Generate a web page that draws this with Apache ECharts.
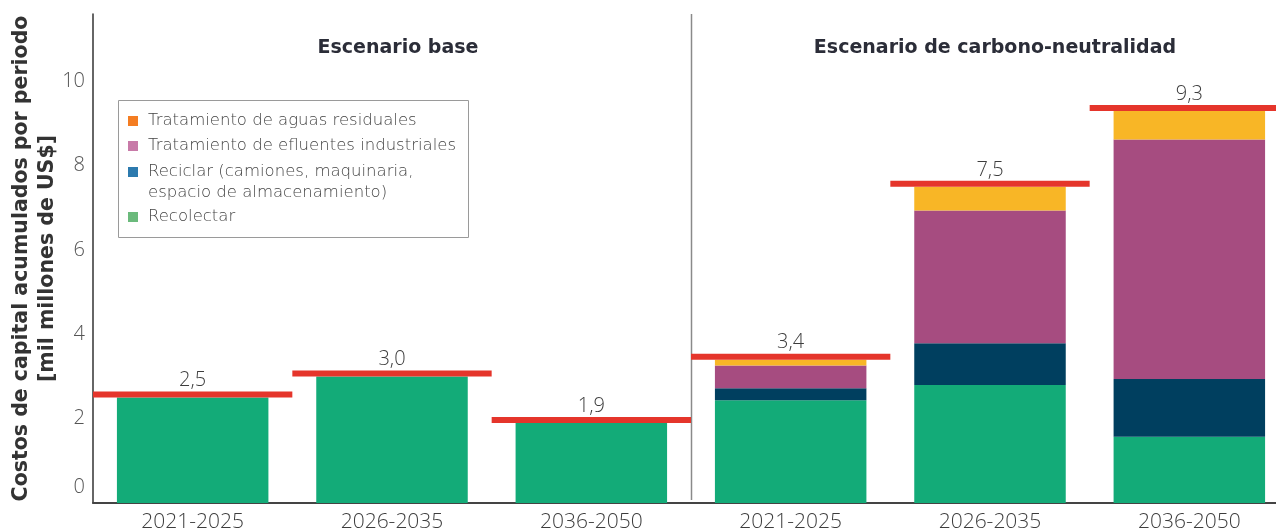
<!DOCTYPE html>
<html>
<head>
<meta charset="utf-8">
<style>
  html, body { margin: 0; padding: 0; background: #ffffff; }
  #chart { width: 1276px; height: 532px; }
</style>
<script src="https://cdn.jsdelivr.net/npm/echarts@6/dist/echarts.min.js"></script>
</head>
<body>
<div id="chart"></div>
<script>
// Periods, repeated for each scenario
const categories = ['2021-2025', '2026-2035', '2036-2050', '2021-2025', '2026-2035', '2036-2050'];

// Stacked components (mil millones de US$), bottom to top
const recolectar = [2.5, 3.0, 1.9, 2.44, 2.80, 1.57];
const reciclar   = [0, 0, 0, 0.28, 0.99, 1.37];
const efluentes  = [0, 0, 0, 0.54, 3.15, 5.68];
const aguas      = [0, 0, 0, 0.14, 0.56, 0.68];

// Period totals shown above each bar
const totals = [2.5, 3.0, 1.9, 3.4, 7.5, 9.3];

// Scenario headings
const scenarios = ['Escenario base', 'Escenario de carbono-neutralidad'];

// Legend entries, top to bottom
const legendNames = [
  'Tratamiento de aguas residuales',
  'Tratamiento de efluentes industriales',
  'Reciclar (camiones, maquinaria,\nespacio de almacenamiento)',
  'Recolectar'
];

const yTicks = [0, 2, 4, 6, 8, 10];

const FONT = '"Open Sans", "Noto Sans", sans-serif';
const BOLD_FONT = '"DejaVu Sans", "Open Sans", sans-serif';
const LEGEND_FONT = '"DejaVu Sans", "Open Sans", sans-serif';
const BAR_COLORS = { recolectar: '#13ab78', reciclar: '#003f5f', efluentes: '#a64c80', aguas: '#f8b626' };
const LEGEND_COLORS = ['#f47d22', '#c87aa8', '#2c7aae', '#6bba7c'];
const fmt = v => v.toFixed(1).replace('.', ',');

const chart = echarts.init(document.getElementById('chart'), null, { renderer: 'canvas' });

function barSeries(name, data, color) {
  return {
    name, type: 'bar', stack: 'total', data,
    barWidth: '76%',
    itemStyle: { color },
    emphasis: { disabled: true },
    z: 2
  };
}

// Legend drawn as a framed box
function legendGraphics() {
  const x0 = 118, y0 = 100;
  const rows = [21, 46, 72, 117];
  const els = [{
    type: 'rect', shape: { x: x0 + 0.5, y: y0 + 0.5, width: 350, height: 137 },
    style: { fill: '#ffffff', stroke: '#9a9a9a', lineWidth: 1 }, z: 10
  }];
  legendNames.forEach((n, i) => {
    els.push({
      type: 'rect', shape: { x: x0 + 10, y: y0 + rows[i] - 5, width: 10, height: 10 },
      style: { fill: LEGEND_COLORS[i] }, z: 11
    });
    els.push({
      type: 'text', x: x0 + 30, y: y0 + rows[i] - 11,
      style: { text: n, font: '200 16.5px ' + LEGEND_FONT, fill: '#444444', lineHeight: 21, textVerticalAlign: 'top' },
      z: 11
    });
  });
  return els;
}

const option = {
  animation: false,
  backgroundColor: '#ffffff',
  textStyle: { fontFamily: FONT },
  title: [
    { text: scenarios[0], left: 393, top: 34, textAlign: 'center',
      textStyle: { fontFamily: BOLD_FONT, fontWeight: 'bold', fontSize: 19, color: '#2b2d38' } },
    { text: scenarios[1], left: 990, top: 34, textAlign: 'center',
      textStyle: { fontFamily: BOLD_FONT, fontWeight: 'bold', fontSize: 19, color: '#2b2d38' } }
  ],
  grid: { left: 93, top: 14, width: 1196, bottom: 29, containLabel: false, outerBoundsMode: 'none' },
  xAxis: {
    type: 'category',
    data: categories,
    boundaryGap: true,
    axisLine: { show: true, lineStyle: { color: '#444444', width: 2 } },
    axisTick: { show: false },
    axisLabel: { color: '#3d3d3d', fontSize: 21, fontWeight: 300, fontFamily: FONT, margin: 9, interval: 0 },
    splitLine: { show: false }
  },
  yAxis: {
    type: 'value',
    min: 0, max: 11.6, interval: 2,
    name: 'Costos de capital acumulados por periodo\n[mil millones de US$]',
    nameLocation: 'middle',
    nameRotate: 90,
    nameGap: 32,
    nameMoveOverlap: false,
    nameTextStyle: { fontFamily: BOLD_FONT, fontWeight: 'bold', fontSize: 20.5, color: '#333333', lineHeight: 26, align: 'center' },
    axisLine: { show: true, lineStyle: { color: '#333333', width: 1.5 } },
    axisTick: { show: false },
    splitLine: { show: false },
    axisLabel: {
      margin: 8,
      formatter: v => {
        if (!yTicks.includes(v)) return '';
        return v === 0 ? '{zero|0}' : '{n|' + v + '}';
      },
      rich: {
        n: { fontSize: 20, fontWeight: 300, color: '#555555', fontFamily: FONT },
        zero: { fontSize: 20, fontWeight: 300, color: '#555555', fontFamily: FONT, padding: [0, 0, 32, 0] }
      }
    }
  },
  series: [
    barSeries('Recolectar', recolectar, BAR_COLORS.recolectar),
    barSeries('Reciclar', reciclar, BAR_COLORS.reciclar),
    barSeries('Tratamiento de efluentes industriales', efluentes, BAR_COLORS.efluentes),
    barSeries('Tratamiento de aguas residuales', aguas, BAR_COLORS.aguas),
    {
      name: 'Total', type: 'custom',
      data: totals.map((t, i) => [i, t]),
      z: 5,
      renderItem: (params, api) => {
        const p = api.coord([api.value(0), api.value(1)]);
        const w = api.size([1, 0])[0];
        return {
          type: 'group',
          children: [
            { type: 'rect', shape: { x: p[0] - w / 2, y: p[1] - 6, width: w, height: 6 },
              style: { fill: '#e5352b' } },
            { type: 'text', x: p[0], y: p[1] - 7,
              style: { text: fmt(api.value(1)), font: '300 20px ' + FONT, fill: '#3d3d3d',
                       textAlign: 'center', textVerticalAlign: 'bottom' } }
          ]
        };
      }
    }
  ],
  graphic: legendGraphics()
};

chart.setOption(option);

// Scenario divider, placed midway between the third and fourth periods
const xa = chart.convertToPixel({ xAxisIndex: 0 }, 2);
const xb = chart.convertToPixel({ xAxisIndex: 0 }, 3);
const yTop = chart.convertToPixel({ yAxisIndex: 0 }, 11.6);
const yBot = chart.convertToPixel({ yAxisIndex: 0 }, 0);
const xd = Math.round((xa + xb) / 2) + 0.5;
chart.setOption({
  graphic: legendGraphics().concat([{
    type: 'line', z: 1,
    shape: { x1: xd, y1: yTop, x2: xd, y2: yBot - 3 },
    style: { stroke: '#8a8a8a', lineWidth: 1.5 }
  }])
});
</script>
</body>
</html>
